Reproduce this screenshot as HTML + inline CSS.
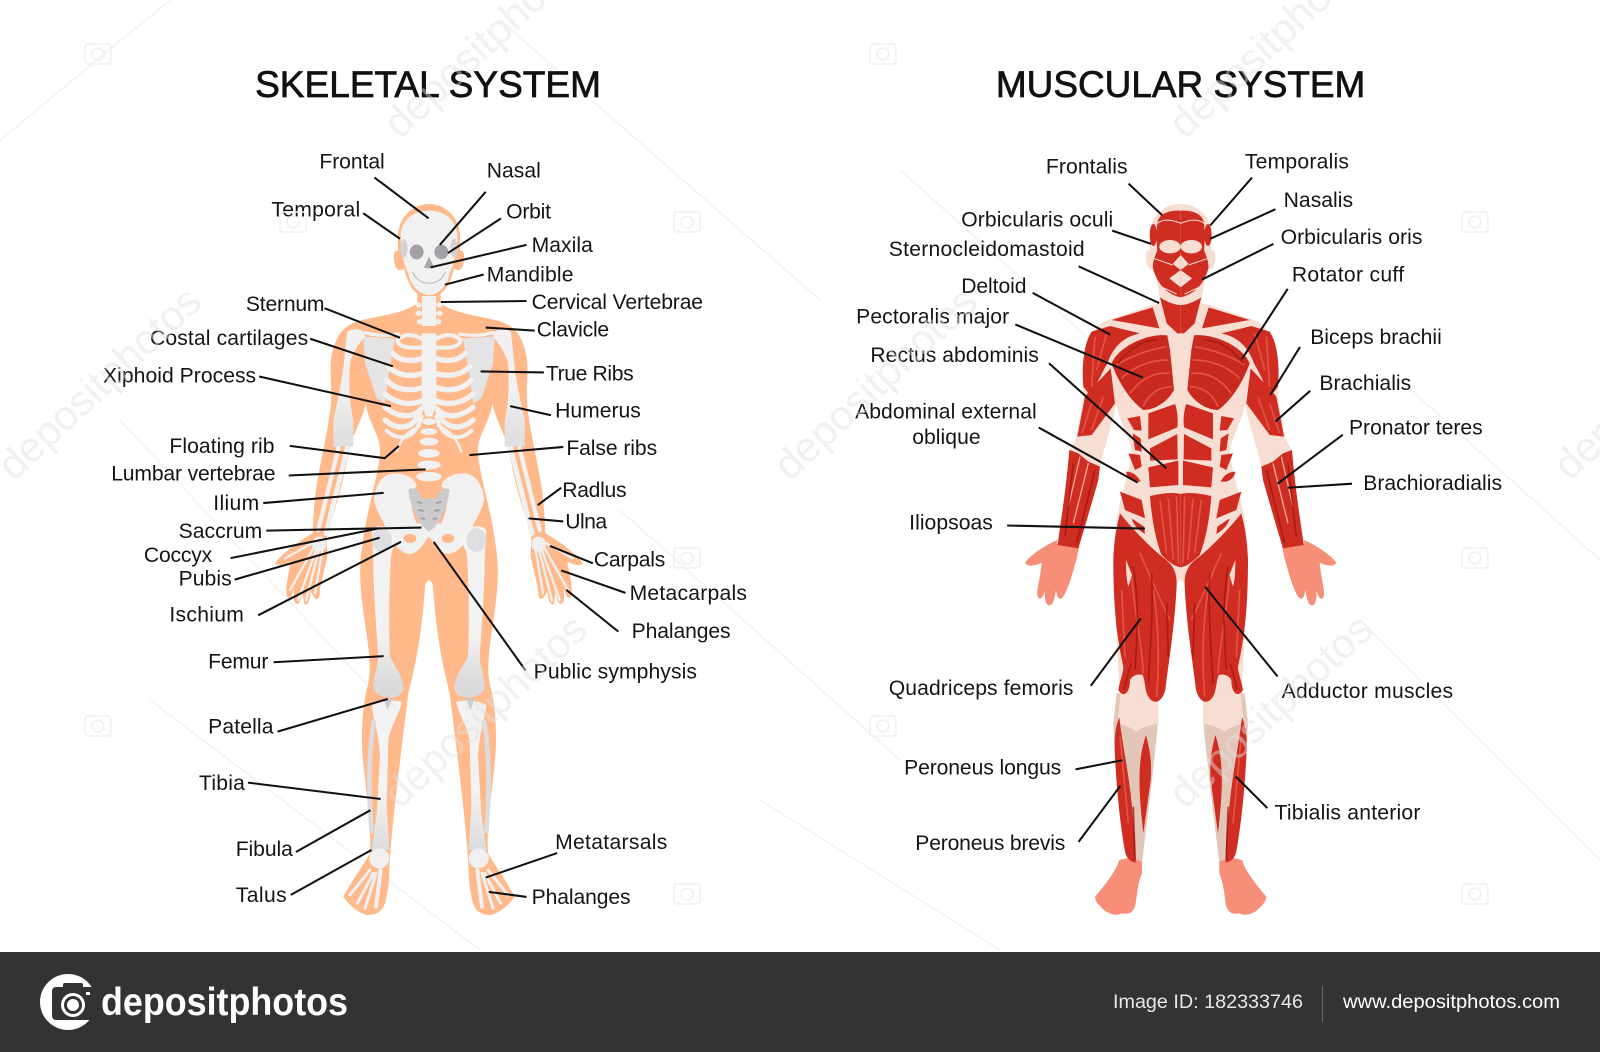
<!DOCTYPE html>
<html><head><meta charset="utf-8"><style>
html,body{margin:0;padding:0;background:#fff}svg{display:block}
text{font-family:"Liberation Sans",sans-serif}
.l text{font-size:20.7px;fill:#151515}
.k line,.k polyline{stroke:#111;stroke-width:2;fill:none}
.r{fill:none;stroke:#f1f1f1;stroke-linecap:round}
.wm text{font-size:42px;fill:#e2e2e2;opacity:.45}
.cam rect{fill:none;stroke:#f0f0f0;stroke-width:1.5}
.cam circle{fill:none;stroke:#f0f0f0;stroke-width:1.5}
</style></head><body>
<svg xmlns="http://www.w3.org/2000/svg" width="1600" height="1052" viewBox="0 0 1600 1052">
<defs>
<linearGradient id="kn" gradientUnits="userSpaceOnUse" x1="0" y1="1340" x2="0" y2="1480"><stop offset="0" stop-color="#f3f3f3"/><stop offset="1" stop-color="#dadadc"/></linearGradient>
<linearGradient id="ti" gradientUnits="userSpaceOnUse" x1="0" y1="1800" x2="0" y2="1980"><stop offset="0" stop-color="#f3f3f3"/><stop offset="1" stop-color="#dcdcde"/></linearGradient>
<linearGradient id="hu" gradientUnits="userSpaceOnUse" x1="0" y1="600" x2="0" y2="740"><stop offset="0" stop-color="#f1f1f1"/><stop offset="1" stop-color="#e0e0e2"/></linearGradient>
<g id="skH">
<path fill="#FFB98A" d="M477 42C430 42 385 80 384 140L384 182C372 180 368 195 375 225C378 240 392 245 402 235C410 270 425 300 442 310L442 340C400 370 340 375 270 392C225 405 195 430 183 510C178 560 190 620 178 680C170 740 150 820 138 900C130 960 130 1000 128 1030C100 1045 40 1085 15 1120C25 1130 40 1125 62 1115C55 1160 45 1190 50 1215C55 1232 65 1225 72 1195L72 1232C80 1250 92 1245 97 1205L102 1240C110 1250 118 1240 122 1205L135 1225C145 1232 150 1220 150 1195L172 1100L170 1030C190 980 215 900 240 770C255 720 280 680 287 640C295 700 335 740 330 790C325 860 290 960 278 1060C265 1130 270 1200 285 1300C300 1400 305 1450 290 1500C280 1540 272 1620 278 1700C290 1820 305 1920 300 1990C270 2040 235 2090 220 2120C240 2150 270 2170 290 2175C320 2175 335 2165 345 2140C355 2100 358 2070 358 2040C362 1940 385 1750 415 1510C435 1430 455 1340 465 1190C468 1172 477 1170 477 1170Z"/>
<path fill="#E4E4E5" d="M280 440L375 445L355 560L345 640L320 625L285 520Z"/>
<path fill="url(#hu)" d="M232 425C250 412 285 415 285 440C270 460 250 480 240 520C235 590 240 650 250 690L250 770L190 770L190 690C205 620 220 560 225 480Z"/>
<path class="r" stroke-width="10" d="M385 432Q340 442 285 428"/>
<g class="r" stroke-width="16">
<path stroke-width="12" d="M458 447Q410 422 382 450Q385 478 455 472"/>
<path d="M458 505C420 518 385 510 368 490"/>
<path d="M458 550C420 562 380 556 355 530"/>
<path d="M458 592C420 606 375 600 350 570"/>
<path d="M458 632C420 648 375 640 345 612"/>
<path d="M455 655C425 690 380 680 345 652"/>
<path d="M450 665C430 720 380 722 345 690"/>
<path stroke-width="12" d="M455 680C435 750 385 755 350 722"/>
<path stroke-width="7" d="M450 708Q400 725 380 785"/>
</g>
<g fill="#f1f1f1">
<path d="M477 62C420 62 388 100 392 150C395 200 405 230 415 250C420 285 450 315 477 315Z"/>
<rect x="456" y="318" width="22" height="90"/>
<ellipse cx="446" cy="345" rx="9" ry="8"/><ellipse cx="446" cy="370" rx="10" ry="8"/><ellipse cx="450" cy="395" rx="10" ry="8"/>
<path d="M455 430L477 430L477 680L467 680L455 640Z"/>
<ellipse cx="477" cy="695" rx="20" ry="10"/><ellipse cx="477" cy="725" rx="25" ry="10"/><ellipse cx="477" cy="755" rx="28" ry="12"/><ellipse cx="477" cy="790" rx="32" ry="13"/><ellipse cx="477" cy="825" rx="35" ry="13"/><ellipse cx="477" cy="860" rx="38" ry="14"/>
<path d="M375 850C340 850 315 880 312 930C320 970 340 990 345 1010C360 1050 385 1090 420 1092C450 1090 465 1050 477 1040L477 1000L440 1000C420 960 415 900 440 890C440 870 410 850 375 850Z"/>
</g>
<ellipse cx="402" cy="175" rx="11" ry="28" fill="#D4D4D6"/>
<ellipse cx="440" cy="186" rx="21" ry="22" fill="#A2A2A6"/>
<path d="M477 200L462 232L477 236Z" fill="#A8A8AC"/>
<path d="M428 245Q440 278 477 280" fill="none" stroke="#bbb" stroke-width="3"/>
<ellipse cx="420" cy="1045" rx="19" ry="14" fill="#FFB98A"/>
<path fill="#CBCBCD" d="M415 900C430 888 445 898 455 925L477 925L477 1024C450 1012 420 950 415 900Z"/>
<path d="M440 935l16 5M445 960l16 3M452 985l14 2" stroke="#a0a0a4" stroke-width="5" fill="none"/>
<path fill="url(#kn)" d="M305 1020C320 1000 360 1005 385 1050C370 1070 362 1090 362 1110C358 1200 355 1300 360 1400C375 1430 405 1470 400 1500C390 1530 330 1530 312 1500C305 1470 325 1430 325 1400C318 1300 310 1200 310 1110Z"/>
<ellipse cx="335" cy="1050" rx="30" ry="36" fill="#dfdfe1"/>
<path fill="url(#ti)" d="M305 1545C330 1530 370 1530 395 1535C390 1570 365 1600 355 1650L350 1850L358 1980L305 1980L320 1870L330 1700C325 1620 310 1590 305 1545Z"/>
<path d="M340 1525L368 1525L352 1560Z" fill="#ccc"/>
<path d="M312 1590C295 1700 295 1800 305 1930" fill="none" stroke="#dcdcde" stroke-width="14"/>
<g class="r" stroke-width="13">
<path d="M205 775L145 1020"/><path stroke-width="15" d="M232 775L168 1030"/>
</g>
<circle cx="148" cy="1062" r="22" fill="#f0f0f0"/>
<g class="r" stroke-width="7">
<path d="M130 1075L60 1200"/><path d="M140 1075L85 1230"/><path d="M148 1075L108 1232"/><path d="M158 1075L135 1210"/><path d="M125 1060L45 1105"/>
</g>
<ellipse cx="328" cy="2005" rx="30" ry="30" fill="#f0f0f0"/>
<g class="r" stroke-width="9">
<path d="M300 2040L240 2115"/><path d="M310 2050L262 2140"/><path d="M318 2050L285 2155"/><path stroke-width="12" d="M332 2040L318 2150"/>
</g>
</g>
<g id="muH">
<path fill="#F68E78" d="M112 1050C90 1060 40 1085 15 1118C22 1132 45 1128 65 1118C60 1170 50 1200 52 1215C58 1235 68 1228 75 1200C72 1225 78 1252 92 1245C102 1240 105 1215 108 1200C112 1225 118 1232 128 1222C140 1205 150 1180 170 1105L178 1068Z"/>
<path fill="#F7DDD2" d="M482 42C430 42 392 80 390 130L390 180C378 178 375 195 380 220C385 240 395 240 404 235L415 300L422 340L395 345C340 365 290 380 250 395C210 420 190 480 187 540C187 590 195 620 180 680L168 745L150 780C140 880 125 980 110 1060L175 1075C200 980 230 880 240 830C255 760 285 680 288 640C300 700 330 740 335 790C325 860 300 920 290 990C280 1060 277 1130 285 1250L300 1520L415 1520C430 1440 460 1300 470 1190C472 1172 482 1170 482 1170Z"/>
<path fill="#E2C6B8" d="M290 1510L415 1510L412 1620L395 1780L367 2010L322 2010L285 1700L280 1600Z"/>
<path fill="#F7DDD2" d="M302 1510L415 1510L415 1600C395 1605 370 1610 350 1625C330 1610 310 1605 292 1600Z"/>
<path fill="#F68E78" d="M320 2005L366 2012L366 2050C352 2080 350 2130 345 2150C335 2175 320 2172 305 2170C285 2180 270 2170 258 2165C240 2150 225 2135 225 2120C250 2090 285 2050 298 2010Z"/>
<g fill="#CF2D22">
<path d="M482 62C440 60 415 75 412 100C408 130 410 165 412 180C405 200 395 220 400 240C410 270 430 310 482 322Z"/>
<ellipse cx="400" cy="135" rx="11" ry="33"/>
<path d="M420 322C440 335 465 345 482 345L482 430L472 430L440 400Z"/>
<path d="M398 352L418 415L275 390Z"/>
<path d="M270 408L360 430C310 440 280 470 262 520C245 550 225 590 215 622L190 590C185 520 192 460 215 425Z"/>
<path d="M172 740L195 620C210 600 240 570 272 535L285 640L215 735Z"/>
<path d="M148 780L175 790L205 815L240 830L235 870C215 940 195 1010 175 1075L113 1065C125 980 140 880 148 780Z"/>
<path d="M385 670L465 642C472 660 475 690 472 712L385 748Z"/>
<path d="M390 775L472 732L473 808L390 812Z"/>
<path d="M385 832L475 812L475 885L390 892Z"/>
<path d="M322 685L360 678L365 722L342 720Z"/><path d="M338 730L362 745L365 785L345 780Z"/><path d="M325 790L360 795L365 830L345 840Z"/><path d="M318 845C340 845 355 860 362 875L345 875C330 870 320 860 318 845Z"/>
<path d="M300 905L365 930L375 985L315 960Z"/>
<path d="M335 985L372 1010L375 1032C355 1020 340 1005 335 985Z"/>
<path d="M300 970C340 1020 380 1060 420 1095C445 1115 470 1130 470 1180C466 1300 445 1420 436 1500C425 1540 400 1545 385 1520C375 1505 375 1470 368 1455C350 1450 335 1460 330 1470C330 1510 310 1525 295 1500C300 1470 310 1450 310 1430C290 1340 280 1250 280 1110C282 1050 290 1010 300 970Z"/>
<path d="M298 1582C305 1650 325 1740 335 1840C342 1900 348 1960 347 2018C330 2015 320 2005 315 1985C300 1900 290 1800 285 1700C282 1650 285 1610 298 1582Z"/>
<path d="M378 1635C390 1680 396 1720 392 1770L370 1930C362 1860 355 1780 360 1730C362 1690 370 1660 378 1635Z"/>
</g>
<g fill="#F7DDD2">
<ellipse cx="450" cy="170" rx="32" ry="20"/>
<path d="M482 195L458 222L482 240Z"/>
<path d="M482 240L448 265L482 292Z"/>
</g>
<path d="M400 205L458 225M412 100C430 85 460 90 482 100M412 285L470 312" fill="none" stroke="#F7DDD2" stroke-width="3"/>
<path fill="#C82A20" d="M442 436L450 480L462 600C440 640 400 660 370 660C340 640 300 590 275 520C295 470 380 430 442 436Z"/>
<path fill="#CF2D22" d="M482 912C450 905 420 912 390 918C395 990 410 1060 425 1095C445 1115 465 1130 482 1132Z"/>
<path fill="#F7DDD2" d="M318 1110L336 1155L325 1190C318 1165 318 1130 318 1110Z"/>
<g fill="none" stroke="#E4584A" stroke-width="5" opacity=".9">
<path d="M440 470C380 480 330 500 290 525"/><path d="M445 510C390 510 340 530 305 565"/><path d="M450 550C400 545 360 570 330 610"/><path d="M455 590C420 590 385 610 370 650"/>
<path d="M420 930L440 1090"/><path d="M445 925L460 1110"/><path d="M470 920L475 1120"/>
<path d="M225 440L215 590"/><path d="M260 430L230 540"/>
<path d="M215 640L185 730"/><path d="M250 620L215 720"/>
<path d="M335 1160C345 1280 365 1360 370 1450"/><path d="M400 1200C415 1300 420 1400 410 1520"/>
<path d="M360 1090C400 1180 430 1250 450 1290"/><path d="M305 1200L315 1400"/>
<path d="M300 1640L325 1900"/>
</g>
<g fill="none" stroke="#F2A79A" stroke-width="4">
<path d="M205 820L160 1000"/><path d="M180 800L145 950"/>
</g>
<g fill="none" stroke="#9E120B" stroke-width="5" opacity=".7">
<path d="M160 820L135 1040"/><path d="M225 840L170 1060"/>
<path d="M340 1130C360 1250 350 1350 345 1440"/><path d="M395 1150C400 1280 390 1380 385 1480"/><path d="M440 1240L445 1400"/>
<path d="M312 1500C320 1470 325 1440 335 1420"/><path d="M340 1850L345 2010"/>
<path d="M410 450C370 450 320 480 295 520"/>
</g>
</g>
</defs>

<g stroke="#f5f5f5" stroke-width="2" fill="none">
<path d="M120 420L400 720"/><path d="M0 140L170 0"/><path d="M500 20L820 300"/><path d="M900 170L1180 420"/><path d="M1400 380L1600 560"/><path d="M760 800L1000 950"/><path d="M150 700L480 950"/><path d="M620 510L900 760"/><path d="M1360 620L1600 860"/>
</g>

<g transform="translate(270,190) scale(.33333)">
<use href="#skH"/>
<use href="#skH" transform="translate(954,0) scale(-1,1)"/>
</g>

<g transform="translate(1020,190) scale(.33333)">
<use href="#muH"/>
<use href="#muH" transform="translate(964,0) scale(-1,1)"/>
</g>

<g transform="scale(1.0204)">
<g class="k">
<line x1="367" y1="174" x2="420" y2="214"/><line x1="356" y1="209" x2="392" y2="234"/><line x1="476" y1="188" x2="431" y2="240"/><line x1="491" y1="214" x2="439" y2="248"/><line x1="516" y1="240" x2="422" y2="262"/><line x1="474" y1="269" x2="436" y2="279"/><line x1="516" y1="295" x2="432" y2="296"/><line x1="524" y1="324" x2="476" y2="321"/><line x1="318" y1="302" x2="392" y2="331"/><line x1="304" y1="332" x2="385" y2="359"/><line x1="533" y1="365" x2="471" y2="364"/><line x1="254" y1="369" x2="383" y2="398"/><line x1="540" y1="407" x2="500" y2="398"/><polyline points="284,437 377,449 391,437"/><line x1="552" y1="438" x2="460" y2="446"/><line x1="283" y1="466" x2="417" y2="460"/><line x1="550" y1="478" x2="527" y2="495"/><line x1="258" y1="493" x2="376" y2="483"/><line x1="552" y1="511" x2="518" y2="508"/><line x1="261" y1="520" x2="413" y2="517"/><line x1="226" y1="547" x2="370" y2="518"/><line x1="581" y1="552" x2="539" y2="535"/><line x1="230" y1="568" x2="372" y2="527"/><line x1="613" y1="581" x2="550" y2="559"/><line x1="253" y1="603" x2="393" y2="531"/><line x1="606" y1="619" x2="555" y2="578"/><line x1="268" y1="649" x2="376" y2="643"/><line x1="515" y1="657" x2="425" y2="531"/><line x1="272" y1="717" x2="380" y2="685"/><line x1="243" y1="767" x2="373" y2="783"/><line x1="290" y1="835" x2="363" y2="794"/><line x1="546" y1="836" x2="476" y2="860"/><line x1="285" y1="877" x2="364" y2="833"/><line x1="516" y1="879" x2="479" y2="874"/>
<line x1="1106" y1="180" x2="1139" y2="211"/><line x1="1227" y1="174" x2="1186" y2="221"/><line x1="1250" y1="205" x2="1186" y2="234"/><line x1="1090" y1="226" x2="1128" y2="239"/><line x1="1248" y1="239" x2="1178" y2="274"/><line x1="1057" y1="261" x2="1136" y2="297"/><line x1="1262" y1="283" x2="1217" y2="352"/><line x1="1012" y1="287" x2="1088" y2="328"/><line x1="995" y1="318" x2="1120" y2="370"/><line x1="1274" y1="340" x2="1245" y2="387"/><line x1="1028" y1="356" x2="1143" y2="459"/><line x1="1284" y1="383" x2="1250" y2="413"/><line x1="1018" y1="419" x2="1115" y2="473"/><line x1="1316" y1="426" x2="1252" y2="474"/><line x1="1325" y1="474" x2="1262" y2="478"/><line x1="987" y1="515" x2="1122" y2="518"/><line x1="1069" y1="672" x2="1118" y2="606"/><line x1="1252" y1="663" x2="1181" y2="575"/><line x1="1054" y1="754" x2="1100" y2="745"/><line x1="1242" y1="792" x2="1211" y2="761"/><line x1="1057" y1="825" x2="1098" y2="770"/>
</g>
<text x="250" y="95" font-size="36" fill="#111" stroke="#111" stroke-width=".7" textLength="339" lengthAdjust="spacingAndGlyphs">SKELETAL SYSTEM</text>
<text x="976" y="95" font-size="36" fill="#111" stroke="#111" stroke-width=".7" textLength="362" lengthAdjust="spacingAndGlyphs">MUSCULAR SYSTEM</text>
<g class="l">
<text x="313" y="165" textLength="64">Frontal</text>
<text x="477" y="174" textLength="53">Nasal</text>
<text x="266" y="212" textLength="87">Temporal</text>
<text x="496" y="214" textLength="44">Orbit</text>
<text x="521" y="247" textLength="60">Maxila</text>
<text x="477" y="276" textLength="85">Mandible</text>
<text x="241" y="305" textLength="77">Sternum</text>
<text x="521" y="303" textLength="168">Cervical Vertebrae</text>
<text x="526" y="330" textLength="71">Clavicle</text>
<text x="147" y="338" textLength="155">Costal cartilages</text>
<text x="535" y="373" textLength="86">True Ribs</text>
<text x="101" y="375" textLength="150">Xiphoid Process</text>
<text x="544" y="409" textLength="84">Humerus</text>
<text x="166" y="444" textLength="103">Floating rib</text>
<text x="555" y="446" textLength="89">False ribs</text>
<text x="109" y="471" textLength="161">Lumbar vertebrae</text>
<text x="551" y="487" textLength="63">Radlus</text>
<text x="209" y="500" textLength="45">Ilium</text>
<text x="554" y="518" textLength="41">Ulna</text>
<text x="175" y="527" textLength="82">Saccrum</text>
<text x="141" y="551" textLength="67">Coccyx</text>
<text x="582" y="555" textLength="70">Carpals</text>
<text x="175" y="574" textLength="52">Pubis</text>
<text x="617" y="588" textLength="115">Metacarpals</text>
<text x="166" y="609" textLength="73">Ischium</text>
<text x="619" y="625" textLength="97">Phalanges</text>
<text x="204" y="655" textLength="59">Femur</text>
<text x="523" y="665" textLength="160">Public symphysis</text>
<text x="204" y="719" textLength="64">Patella</text>
<text x="195" y="774" textLength="45">Tibia</text>
<text x="231" y="839" textLength="56">Fibula</text>
<text x="544" y="832" textLength="110">Metatarsals</text>
<text x="231" y="884" textLength="50">Talus</text>
<text x="521" y="886" textLength="97">Phalanges</text>
<text x="1025" y="170" textLength="80">Frontalis</text>
<text x="1220" y="165" textLength="102">Temporalis</text>
<text x="1258" y="203" textLength="68">Nasalis</text>
<text x="942" y="222" textLength="149">Orbicularis oculi</text>
<text x="1255" y="239" textLength="139">Orbicularis oris</text>
<text x="871" y="251" textLength="192">Sternocleidomastoid</text>
<text x="1266" y="276" textLength="110">Rotator cuff</text>
<text x="942" y="287" textLength="64">Deltoid</text>
<text x="839" y="317" textLength="150">Pectoralis major</text>
<text x="1284" y="337" textLength="129">Biceps brachii</text>
<text x="853" y="355" textLength="165">Rectus abdominis</text>
<text x="1293" y="382" textLength="90">Brachialis</text>
<text x="838" y="410" textLength="178">Abdominal external</text>
<text x="894" y="435" textLength="67">oblique</text>
<text x="1322" y="426" textLength="131">Pronator teres</text>
<text x="1336" y="480" textLength="136">Brachioradialis</text>
<text x="891" y="519" textLength="82">Iliopsoas</text>
<text x="871" y="681" textLength="181">Quadriceps femoris</text>
<text x="1256" y="684" textLength="168">Adductor muscles</text>
<text x="886" y="759" textLength="154">Peroneus longus</text>
<text x="1249" y="803" textLength="143">Tibialis anterior</text>
<text x="897" y="833" textLength="147">Peroneus brevis</text>
</g>
</g>

<g class="wm">
<text transform="translate(14,482) rotate(-43)" textLength="260">depositphotos</text>
<text transform="translate(790,482) rotate(-43)" textLength="260">depositphotos</text>
<text transform="translate(400,140) rotate(-43)" textLength="260">depositphotos</text>
<text transform="translate(1185,140) rotate(-43)" textLength="260">depositphotos</text>
<text transform="translate(400,810) rotate(-43)" textLength="260">depositphotos</text>
<text transform="translate(1185,810) rotate(-43)" textLength="260">depositphotos</text>
<text transform="translate(1570,482) rotate(-43)" textLength="260">depositphotos</text>
</g>
<g class="cam">
<g transform="translate(85,44)"><rect width="26" height="20" rx="3"/><circle cx="13" cy="10" r="6"/></g>
<g transform="translate(280,212)"><rect width="26" height="20" rx="3"/><circle cx="13" cy="10" r="6"/></g>
<g transform="translate(674,212)"><rect width="26" height="20" rx="3"/><circle cx="13" cy="10" r="6"/></g>
<g transform="translate(870,44)"><rect width="26" height="20" rx="3"/><circle cx="13" cy="10" r="6"/></g>
<g transform="translate(1462,212)"><rect width="26" height="20" rx="3"/><circle cx="13" cy="10" r="6"/></g>
<g transform="translate(674,548)"><rect width="26" height="20" rx="3"/><circle cx="13" cy="10" r="6"/></g>
<g transform="translate(1462,548)"><rect width="26" height="20" rx="3"/><circle cx="13" cy="10" r="6"/></g>
<g transform="translate(85,716)"><rect width="26" height="20" rx="3"/><circle cx="13" cy="10" r="6"/></g>
<g transform="translate(870,716)"><rect width="26" height="20" rx="3"/><circle cx="13" cy="10" r="6"/></g>
<g transform="translate(674,884)"><rect width="26" height="20" rx="3"/><circle cx="13" cy="10" r="6"/></g>
<g transform="translate(1462,884)"><rect width="26" height="20" rx="3"/><circle cx="13" cy="10" r="6"/></g>
</g>

<rect x="0" y="952" width="1600" height="100" fill="#333"/>
<circle cx="68" cy="1002" r="28" fill="#fff"/>
<rect x="52" y="987" width="44" height="33" rx="4" fill="#333"/>
<rect x="63" y="983" width="20" height="6" rx="2" fill="#333"/>
<circle cx="73" cy="1005" r="12" fill="#fff"/><circle cx="73" cy="1005" r="9" fill="#333"/><circle cx="73" cy="1005" r="6" fill="#fff"/>
<rect x="86" y="992" width="4" height="3" fill="#fff"/>
<text x="101" y="1015" font-size="39" font-weight="bold" fill="#fff" textLength="247" lengthAdjust="spacingAndGlyphs">depositphotos</text>
<text x="1113" y="1008" font-size="19.5" fill="#e8e8e8" textLength="190" lengthAdjust="spacingAndGlyphs">Image ID: 182333746</text>
<rect x="1322" y="986" width="1" height="36" fill="#6a6a6a"/>
<text x="1343" y="1008" font-size="19.5" fill="#fff" textLength="217" lengthAdjust="spacingAndGlyphs">www.depositphotos.com</text>
</svg>
</body></html>
